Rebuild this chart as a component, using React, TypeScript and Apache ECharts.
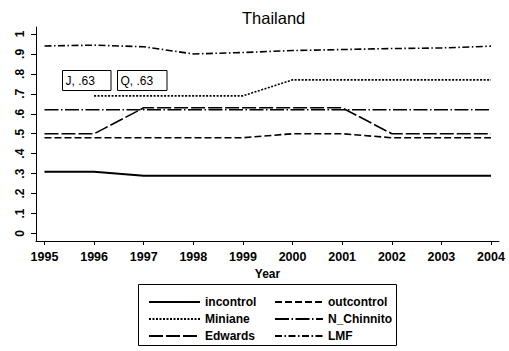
import React, { useEffect, useRef } from "react";
import * as echarts from "echarts";

// Thailand: yearly scores of the six indices
const years = [1995, 1996, 1997, 1998, 1999, 2000, 2001, 2002, 2003, 2004];
const incontrol = [0.31, 0.31, 0.29, 0.29, 0.29, 0.29, 0.29, 0.29, 0.29, 0.29];
const outcontrol = [0.48, 0.48, 0.48, 0.48, 0.48, 0.5, 0.5, 0.48, 0.48, 0.48];
const miniane = [null, 0.69, 0.69, 0.69, 0.69, 0.77, 0.77, 0.77, 0.77, 0.77];
const nChinnito = [0.62, 0.62, 0.62, 0.62, 0.62, 0.62, 0.62, 0.62, 0.62, 0.62];
const edwards = [0.5, 0.5, 0.63, 0.63, 0.63, 0.63, 0.63, 0.5, 0.5, 0.5];
const lmf = [0.94, 0.944, 0.936, 0.9, 0.907, 0.917, 0.922, 0.927, 0.93, 0.939];
const yTicks = [0, 0.1, 0.2, 0.3, 0.4, 0.5, 0.6, 0.7, 0.8, 0.9, 1];
const boxLabels = ["J, .63", "Q, .63"];

const FONT = "'Liberation Sans', Arial, Helvetica, sans-serif";

const pairs = (vals: (number | null)[]) =>
  years.map((y, i) => [y, vals[i] === null ? null : vals[i]]);

const fmtY = (v: number) => {
  const r = Math.round(v * 10);
  if (r === 0) return "0";
  if (r === 10) return "1";
  return "." + r;
};

export default function App() {
  const ref = useRef<HTMLDivElement>(null);

  useEffect(() => {
    if (!ref.current) return;
    const chart = echarts.init(ref.current, null, { renderer: "svg" });

    const mk = (name: string, vals: (number | null)[], type: any, width = 1.6) => ({
      name,
      type: "line",
      data: pairs(vals),
      symbol: "none",
      showSymbol: false,
      connectNulls: false,
      lineStyle: { color: "#000", width, type },
      itemStyle: { color: "#000" },
    });

    const legendText = { fontFamily: FONT, fontSize: 12, fontWeight: "bold", color: "#000" };
    const legendBase = {
      orient: "vertical",
      top: 291,
      itemHeight: 14,
      itemGap: 5,
      textStyle: legendText,
      selectedMode: false,
      itemStyle: { opacity: 0, borderWidth: 0 },
    };

    chart.setOption({
      animation: false,
      backgroundColor: "#fff",
      title: {
        text: "Thailand",
        left: 237,
        top: 4,
        textStyle: { fontFamily: FONT, fontSize: 16.5, fontWeight: "normal", color: "#000" },
      },
      grid: { left: 36, right: 10, top: 27, bottom: 110, containLabel: false },
      xAxis: {
        type: "value",
        min: 1994.829,
        max: 2004.161,
        name: "Year",
        nameLocation: "middle",
        nameGap: 22,
        nameTextStyle: { fontFamily: FONT, fontSize: 12, fontWeight: "bold", color: "#000" },
        axisLine: { show: true, onZero: false, lineStyle: { color: "#000", width: 1 } },
        axisTick: { show: true, customValues: years, length: 4, lineStyle: { color: "#000" } },
        axisLabel: {
          customValues: years,
          margin: 9,
          fontFamily: FONT,
          fontSize: 12.5,
          fontWeight: "bold",
          color: "#000",
          formatter: (v: number) => String(Math.round(v)),
        },
        splitLine: { show: false },
      },
      yAxis: {
        type: "value",
        min: -0.0376,
        max: 1.035,
        axisLine: { show: true, onZero: false, lineStyle: { color: "#000", width: 1 } },
        axisTick: { show: true, customValues: yTicks, length: 5, lineStyle: { color: "#000" } },
        axisLabel: {
          customValues: yTicks,
          rotate: 90,
          margin: 10,
          fontFamily: FONT,
          fontSize: 12,
          fontWeight: "bold",
          color: "#000",
          formatter: fmtY,
        },
        splitLine: { show: false },
      },
      legend: [
        {
          ...legendBase,
          left: 143,
          itemWidth: 51,
          data: ["incontrol", "Miniane", "Edwards"],
        },
        {
          ...legendBase,
          left: 269,
          itemWidth: 48,
          data: ["outcontrol", "N_Chinnito", "LMF"],
        },
      ],
      graphic: [
        {
          type: "rect",
          shape: { x: 138.5, y: 284.5, width: 258, height: 61 },
          style: { fill: "none", stroke: "#000", lineWidth: 1 },
          silent: true,
        },
        {
          type: "group",
          children: boxLabels.map((t, i) => ({
            type: "group",
            x: i === 0 ? 62.5 : 117.5,
            y: 70.5,
            children: [
              {
                type: "rect",
                shape: { x: 0, y: 0, width: i === 0 ? 48.5 : 49.5, height: 20 },
                style: { fill: "#fff", stroke: "#000", lineWidth: 1 },
              },
              {
                type: "text",
                x: 3,
                y: 10,
                style: {
                  text: t,
                  fontFamily: FONT,
                  fontSize: 12,
                  fill: "#000",
                  verticalAlign: "middle",
                  align: "left",
                },
              },
            ],
          })),
        },
      ],
      series: [
        mk("incontrol", incontrol, "solid", 2),
        mk("outcontrol", outcontrol, [7, 3]),
        mk("Miniane", miniane, [2, 1.5]),
        mk("N_Chinnito", nChinnito, [14, 2.5, 1.5, 2.5]),
        mk("Edwards", edwards, [14, 3]),
        mk("LMF", lmf, [7, 2.5, 1.5, 2.5]),
      ],
    });

    return () => chart.dispose();
  }, []);

  return (
    <div
      ref={ref}
      style={{ position: "absolute", left: 0, top: 0, width: 509, height: 351, background: "#fff" }}
    />
  );
}
